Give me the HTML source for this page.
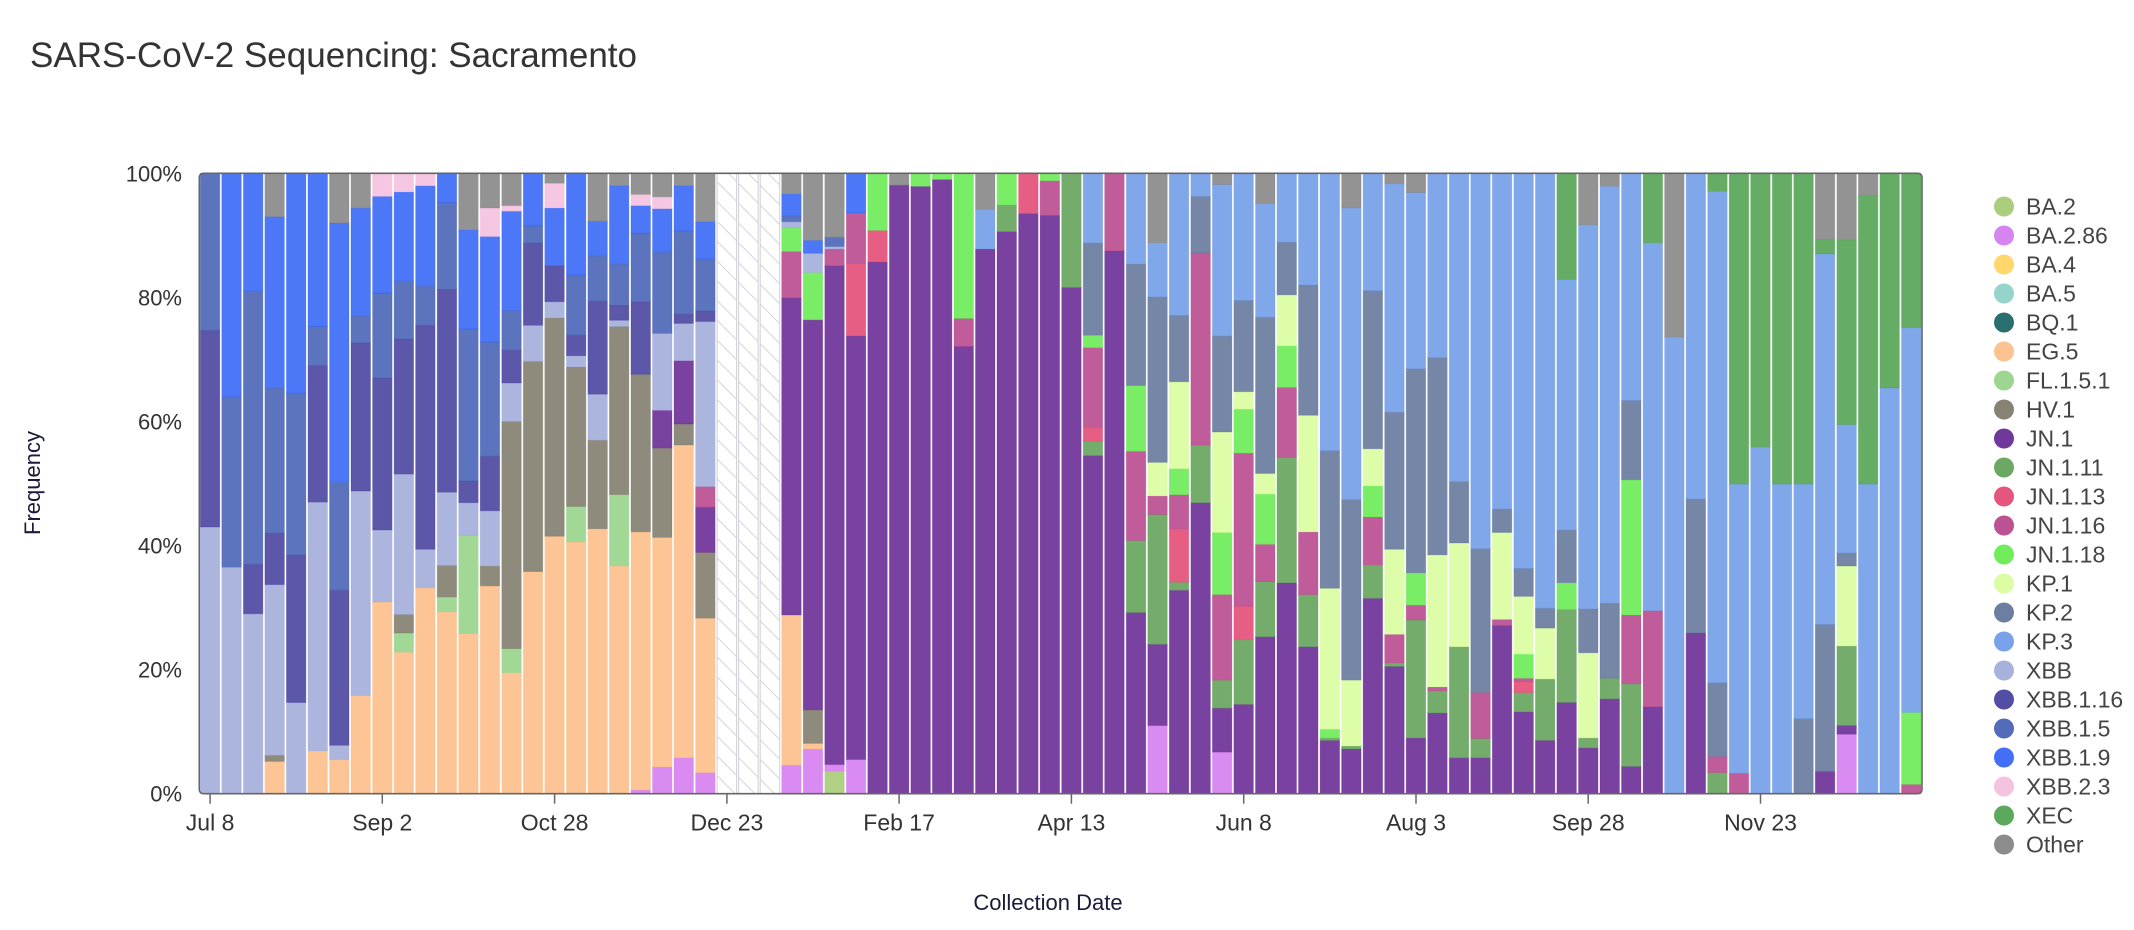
<!DOCTYPE html>
<html><head><meta charset="utf-8"><style>
html,body{margin:0;padding:0;background:#fff;}
svg{display:block;font-family:"Liberation Sans",Arial,sans-serif;}
</style></head><body>
<svg id="s" width="2134" height="930" viewBox="0 0 2134 930" xmlns="http://www.w3.org/2000/svg">
<defs>
<pattern id="hatch" patternUnits="userSpaceOnUse" width="14" height="14" patternTransform="rotate(-45)">
<rect width="14" height="14" fill="#fff"/><line x1="0" y1="0" x2="0" y2="14" stroke="#d4d4dc" stroke-width="2"/>
</pattern>
</defs>
<text x="30" y="67" font-size="35" fill="#333">SARS-CoV-2 Sequencing: Sacramento</text>
<g id="plot"></g>
<text transform="translate(40,483) rotate(-90)" font-size="22" fill="#1a1a3a" text-anchor="middle">Frequency</text>
<text x="1048" y="910" font-size="22" fill="#1a1a3a" text-anchor="middle">Collection Date</text>
</svg>
<script>
const C={B2:"#a2c96e",B86:"#d277ee",B4:"#ffd35c",B5:"#88cfc5",BQ:"#135f5f",EG:"#fdbb84",FL:"#92d184",HV:"#7a7565",J1:"#63218f",J11:"#5c9e52",J13:"#e2426f",J16:"#b53f87",J18:"#60ea4a",K1:"#d8fd99",K2:"#5d7196",K3:"#6b98e8",X:"#9da8d8",X16:"#403a9a",X15:"#3f5cb3",X19:"#2d5ff5",X23:"#f3bddd",XEC:"#4a9e4a",O:"#808080"};
const D=[
[["X",43],["X16",74.7],["X15",100]],
[["X",36.5],["X15",64],["X19",100]],
[["X",29],["X16",37],["X15",81],["X19",100]],
[["EG",5.2],["HV",6.2],["X",33.7],["X16",42],["X15",65.4],["X19",93],["O",100]],
[["X",14.7],["X16",38.5],["X15",64.6],["X19",100]],
[["EG",6.9],["X",47],["X16",69],["X15",75.3],["X19",100]],
[["EG",5.5],["X",7.8],["X16",32.8],["X15",50.2],["X19",92],["O",100]],
[["EG",15.8],["X",48.8],["X16",72.7],["X15",77],["X19",94.4],["O",100]],
[["EG",30.9],["X",42.5],["X16",67],["X15",80.7],["X19",96.3],["X23",100]],
[["EG",22.8],["FL",25.9],["HV",28.9],["X",51.5],["X16",73.3],["X15",82.6],["X19",97],["X23",100]],
[["EG",33.2],["X",39.4],["X16",75.5],["X15",81.8],["X19",98],["X23",100]],
[["EG",29.3],["FL",31.7],["HV",36.8],["X",48.6],["X16",81.3],["X15",95.3],["X19",100]],
[["EG",25.8],["FL",41.6],["X",46.9],["X16",50.4],["X15",74.9],["X19",90.9],["O",100]],
[["EG",33.5],["HV",36.7],["X",45.6],["X16",54.4],["X15",72.8],["X19",89.8],["X23",94.4],["O",100]],
[["EG",19.5],["FL",23.4],["HV",60],["X",66.2],["X16",71.5],["X15",77.9],["X19",93.9],["X23",94.8],["O",100]],
[["EG",35.8],["HV",69.7],["X",75.5],["X16",88.8],["X15",91.5],["X19",100]],
[["EG",41.5],["HV",76.7],["X",79.3],["X16",85.1],["X19",94.4],["X23",98.4],["O",100]],
[["EG",40.6],["FL",46.3],["HV",68.8],["X",70.6],["X16",73.9],["X15",83.6],["X19",100]],
[["EG",42.7],["HV",57],["X",64.4],["X16",79.4],["X15",86.7],["X19",92.3],["O",100]],
[["EG",36.7],["FL",48.2],["HV",75.3],["X",76.3],["X16",78.7],["X15",85.4],["X19",98],["O",100]],
[["B86",0.6],["EG",42.2],["HV",67.6],["X16",79.3],["X15",90.3],["X19",94.8],["X23",96.6],["O",100]],
[["B86",4.3],["EG",41.3],["HV",55.7],["J1",61.8],["X",74.2],["X15",87.3],["X19",94.3],["X23",96.2],["O",100]],
[["B86",5.8],["EG",56.2],["HV",59.6],["J1",69.8],["X",75.8],["X16",77.3],["X15",90.7],["X19",98],["O",100]],
[["B86",3.4],["EG",28.3],["HV",38.9],["J1",46.2],["J16",49.5],["X",76.1],["X16",77.8],["X15",86.2],["X19",92.2],["O",100]],
null,null,null,
[["B86",4.6],["EG",28.8],["J1",79.9],["J16",87.4],["J18",91.2],["X",92.2],["X15",93.1],["X19",96.7],["O",100]],
[["B86",7.2],["EG",8.1],["HV",13.5],["J1",76.4],["J18",84],["X",87.1],["X19",89.2],["O",100]],
[["B2",3.6],["B86",4.7],["J1",85.1],["J16",87.8],["X",88.2],["X15",89.7],["O",100]],
[["B86",5.5],["J1",73.8],["J13",85.5],["J16",93.6],["X19",100]],
[["J1",85.7],["J13",90.8],["J18",100]],
[["J1",98.1],["O",100]],
[["J1",97.9],["J18",100]],
[["J1",99],["J18",100]],
[["J1",72.1],["J16",76.6],["J18",100]],
[["J1",87.8],["K3",94.2],["O",100]],
[["J1",90.6],["J11",94.9],["J18",100]],
[["J1",93.5],["J13",100]],
[["J1",93.2],["J16",98.8],["J18",100]],
[["J1",81.6],["J11",100]],
[["J1",54.5],["J11",56.8],["J13",59],["J16",71.9],["J18",73.9],["K2",88.8],["K3",100]],
[["J1",87.5],["J16",100]],
[["J1",29.2],["J11",40.8],["J16",55.2],["J18",65.8],["K2",85.4],["K3",100]],
[["B86",11],["J1",24.1],["J11",45],["J16",48],["K1",53.4],["K2",80.1],["K3",88.8],["O",100]],
[["J1",32.8],["J11",34.1],["J13",42.7],["J16",48.2],["J18",52.4],["K1",66.4],["K2",77.1],["K3",100]],
[["J1",46.9],["J11",56.2],["J16",87.2],["K2",96.3],["K3",100]],
[["B86",6.7],["J1",13.8],["J11",18.3],["J16",32.1],["J18",42.1],["K1",58.3],["K2",73.8],["K3",98.2],["O",100]],
[["J1",14.4],["J11",24.8],["J13",30.2],["J16",54.9],["J18",62],["K1",64.8],["K2",79.5],["K3",100]],
[["J1",25.3],["J11",34.2],["J16",40.2],["J18",48.3],["K1",51.6],["K2",76.8],["K3",95.1],["O",100]],
[["J1",34],["J11",54.2],["J16",65.5],["J18",72.2],["K1",80.4],["K2",88.9],["K3",100]],
[["J1",23.7],["J11",32.1],["J16",42.2],["K1",61],["K2",82],["K3",100]],
[["J1",8.6],["J11",9],["J18",10.4],["K1",33.1],["K2",55.3],["K3",100]],
[["J1",7.2],["J11",7.7],["K1",18.3],["K2",47.4],["K3",94.4],["O",100]],
[["J1",31.5],["J11",36.9],["J16",44.6],["J18",49.6],["K1",55.6],["K2",81.1],["K3",100]],
[["J1",20.5],["J11",21.1],["J16",25.7],["K1",39.4],["K2",61.5],["K3",98.3],["O",100]],
[["J1",9],["J11",28],["J16",30.4],["J18",35.6],["K2",68.5],["K3",96.9],["O",100]],
[["J1",13],["J11",16.6],["J16",17.2],["K1",38.5],["K2",70.3],["K3",100]],
[["J1",5.8],["J11",23.7],["K1",40.4],["K2",50.3],["K3",100]],
[["J1",5.8],["J11",8.9],["J16",16.3],["K2",39.5],["K3",100]],
[["J1",27.1],["J16",28.1],["K1",42.1],["K2",45.9],["K3",100]],
[["J1",13.2],["J11",16.3],["J13",18.1],["J16",18.6],["J18",22.5],["K1",31.8],["K2",36.3],["K3",100]],
[["J1",8.6],["J11",18.5],["K1",26.7],["K2",29.9],["K3",100]],
[["J1",14.7],["J11",29.7],["J18",34],["K2",42.5],["K3",82.9],["XEC",100]],
[["J1",7.4],["J11",9],["K1",22.7],["K2",29.8],["K3",91.7],["O",100]],
[["J1",15.3],["J11",18.6],["K2",30.7],["K3",97.9],["O",100]],
[["J1",4.4],["J11",17.7],["J16",28.8],["J18",50.6],["K2",63.4],["K3",100]],
[["J1",14],["J16",29.5],["K3",88.8],["XEC",100]],
[["K3",73.6],["O",100]],
[["J1",25.9],["K2",47.5],["K3",100]],
[["J11",3.4],["J16",6],["K2",17.9],["K3",97.1],["XEC",100]],
[["J16",3.3],["K3",49.9],["XEC",100]],
[["K3",55.9],["XEC",100]],
[["K3",49.9],["XEC",100]],
[["K2",12.1],["K3",49.9],["XEC",100]],
[["J1",3.6],["K2",27.3],["K3",87],["XEC",89.4],["O",100]],
[["B86",9.6],["J1",11],["J11",23.8],["K1",36.7],["K2",38.8],["K3",59.5],["XEC",89.3],["O",100]],
[["K3",49.9],["XEC",96.4],["O",100]],
[["K3",65.4],["XEC",100]],
[["J16",1.5],["J18",13.1],["K3",75.1],["XEC",100]]
];
const L=199.3,R=1922,T=173.3,B=793.7,H=B-T,P=(R-L)/80;
let s='';
D.forEach((bar,k)=>{
  const x=L+k*P+1, w=P-2;
  if(!bar){s+=`<rect x="${x.toFixed(1)}" y="${T}" width="${w.toFixed(1)}" height="${H}" fill="url(#hatch)" stroke="#cfcfd6" stroke-width="1"/>`;return;}
  let prev=0;
  bar.forEach(([key,top])=>{
    const y1=B-H*top/100, y0=B-H*prev/100;
    s+=`<rect x="${x.toFixed(1)}" y="${y1.toFixed(1)}" width="${w.toFixed(1)}" height="${(y0-y1).toFixed(1)}" fill="${C[key]}" fill-opacity="0.85" stroke="${C[key]}" stroke-opacity="0.35" stroke-width="0.8"/>`;
    prev=top;
  });
});
s+=`<rect x="${L}" y="${T}" width="${R-L}" height="${H}" rx="4" fill="none" stroke="#666" stroke-width="1.6"/>`;
[0,20,40,60,80,100].forEach(v=>{const y=B-H*v/100;s+=`<text x="182" y="${(y+8).toFixed(1)}" font-size="22" fill="#333" text-anchor="end">${v}%</text>`;});
const ticks=[[0,"Jul 8"],[8,"Sep 2"],[16,"Oct 28"],[24,"Dec 23"],[32,"Feb 17"],[40,"Apr 13"],[48,"Jun 8"],[56,"Aug 3"],[64,"Sep 28"],[72,"Nov 23"]];
ticks.forEach(([k,t])=>{const x=L+(k+0.5)*P;s+=`<line x1="${x.toFixed(1)}" y1="${B}" x2="${x.toFixed(1)}" y2="${B+10}" stroke="#666" stroke-width="1.5"/><text x="${x.toFixed(1)}" y="${B+37}" font-size="23" fill="#333" text-anchor="middle">${t}</text>`;});
const LG=[["BA.2","B2"],["BA.2.86","B86"],["BA.4","B4"],["BA.5","B5"],["BQ.1","BQ"],["EG.5","EG"],["FL.1.5.1","FL"],["HV.1","HV"],["JN.1","J1"],["JN.1.11","J11"],["JN.1.13","J13"],["JN.1.16","J16"],["JN.1.18","J18"],["KP.1","K1"],["KP.2","K2"],["KP.3","K3"],["XBB","X"],["XBB.1.16","X16"],["XBB.1.5","X15"],["XBB.1.9","X19"],["XBB.2.3","X23"],["XEC","XEC"],["Other","O"]];
LG.forEach(([n,k],i)=>{const y=206.5+i*29.0;s+=`<circle cx="2004" cy="${y.toFixed(1)}" r="10" fill="${C[k]}" fill-opacity="0.9"/><text x="2026" y="${(y+8).toFixed(1)}" font-size="23" fill="#444">${n}</text>`;});
document.getElementById('plot').innerHTML=s;
</script>
</body></html>
